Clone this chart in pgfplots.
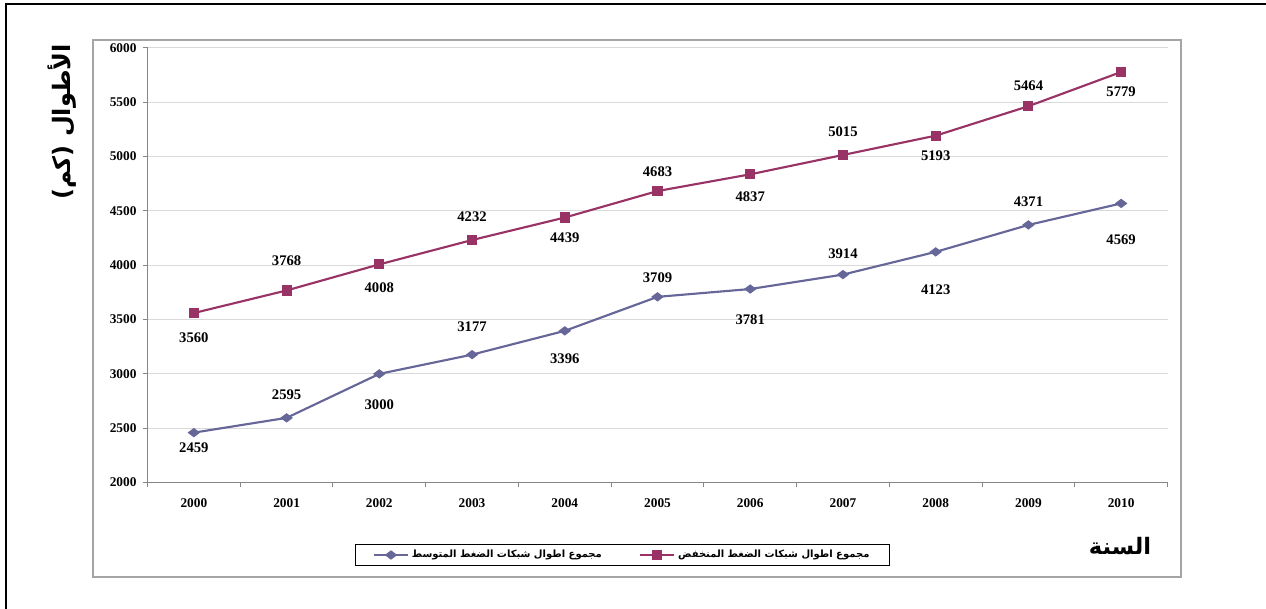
\documentclass[border=0pt]{standalone}
\usepackage{fontspec}
\setmainfont{Liberation Serif}
\newfontfamily\arabicfont[Script=Arabic]{DejaVu Sans}
\TeXXeTstate=1
\usepackage{pgfplots}
\usepackage{pgfplotstable}
\pgfplotsset{compat=1.18}
\definecolor{redS}{RGB}{153,51,102}
\definecolor{blueS}{RGB}{102,102,153}
\definecolor{gridC}{RGB}{217,217,217}
\definecolor{axisC}{RGB}{134,134,134}
\definecolor{frameC}{RGB}{165,165,165}

\pgfplotstableread{
x y off
0 2459 -15
1 2595 23
2 3000 -31
3 3177 28
4 3396 -28
5 3709 19
6 3781 -31
7 3914 21
8 4123 -38
9 4371 23
10 4569 -36
}\bluedata

\pgfplotstableread{
x y off
0 3560 -25
1 3768 30
2 4008 -23
3 4232 23
4 4439 -20
5 4683 19
6 4837 -22
7 5015 23
8 5193 -20
9 5464 20
10 5779 -20
}\reddata

\begin{document}
\begin{tikzpicture}
\path[use as bounding box] (0,0) rectangle (949.5pt,456.75pt);
\draw[black, line width=1pt] (4.5pt,0pt) -- (4.5pt,453.75pt) -- (949.5pt,453.75pt);
\draw[frameC, line width=1.2pt] (69.75pt,24pt) rectangle (885.75pt,426.75pt);

\begin{axis}[
  at={(110.625pt,94.875pt)}, anchor=south west,
  scale only axis, width=765pt, height=325.875pt,
  xmin=-0.5, xmax=10.5, ymin=2000, ymax=6000,
  clip=false,
  axis lines*=left,
  axis line style={draw=axisC, line width=0.75pt},
  tick style={draw=axisC, line width=0.75pt},
  tick align=outside,
  major tick length=3.75pt,
  minor tick length=3.75pt,
  xtick={0,...,10},
  xticklabels={2000,2001,2002,2003,2004,2005,2006,2007,2008,2009,2010},
  major x tick style={draw=none},
  minor xtick={-0.5,0.5,...,10.5},
  ytick={2000,2500,...,6000},
  ymajorgrids,
  grid style={draw=gridC, line width=0.75pt},
  /pgf/number format/assume math mode=true,
  /pgf/number format/1000 sep={},
  ticklabel style={font=\bfseries\fontsize{10}{11}\selectfont},
  xticklabel style={yshift=-5pt},
  yticklabel style={xshift=-1pt},
  legend style={at={(0.4657,-0.1669)}, anchor=center, draw=black, line width=0.9pt,
    font=\arabicfont\bfseries\fontsize{7.5}{9}\selectfont,
    /tikz/every even column/.append style={column sep=26pt},
    inner xsep=13pt, inner ysep=2.5pt},
  legend columns=2,
  legend image code/.code={\draw[mark repeat=2,mark phase=2,#1] plot coordinates {(0cm,0cm) (0.45cm,0cm) (0.9cm,0cm)};},
  nodes near coords,
  point meta=explicit symbolic,
  visualization depends on={\thisrow{off}\as\lbloff},
  every node near coord/.append style={anchor=center, yshift=\lbloff*0.75pt,
     font=\bfseries\fontsize{11}{12}\selectfont, text=black},
]
\addplot[color=blueS, line width=1.6pt, mark=diamond*, mark size=3.375pt,
  mark options={rotate=90, solid, fill=blueS}] table[x=x, y=y, meta=y] {\bluedata};
\addlegendentry{\beginR مجموع اطوال شبكات الضغط المتوسط\endR}
\addplot[color=redS, line width=1.6pt, mark=square*, mark size=3pt,
  mark options={solid, fill=redS}] table[x=x, y=y, meta=y] {\reddata};
\addlegendentry{\beginR مجموع اطوال شبكات الضغط المنخفض\endR}
\end{axis}

\node[font=\arabicfont\bfseries\fontsize{17}{19}\selectfont, anchor=center] at (840pt,47.25pt) {\beginR السنة\endR};
\node[font=\arabicfont\bfseries\fontsize{18}{20}\selectfont, anchor=center, rotate=90] at (46.5pt,365.25pt) {\beginR الأطوال (كم)\endR};
\end{tikzpicture}
\end{document}
